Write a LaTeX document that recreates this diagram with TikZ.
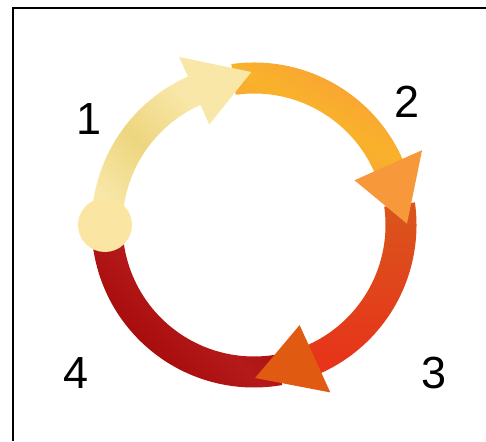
\documentclass[tikz,border=0pt]{standalone}
\usepackage{fontspec}
\setmainfont{Liberation Sans}
\usetikzlibrary{calc}
\definecolor{cycpale}{HTML}{EDD67F}
\definecolor{cycpalelight}{HTML}{F8E7A8}
\definecolor{cycpalehead}{HTML}{F8E7A6}
\definecolor{cycorange}{HTML}{F89A38}
\definecolor{cycorangemid}{HTML}{F9B22B}
\definecolor{cycorangehead}{HTML}{F7983A}
\definecolor{cycred}{HTML}{E8321A}
\definecolor{cycredtop}{HTML}{D9561C}
\definecolor{cycredhead}{HTML}{E05A12}
\definecolor{cycdark}{HTML}{A00404}
\definecolor{cycdarkmid}{HTML}{B51A1A}
\definecolor{cycdot}{HTML}{FAE6A2}

\begin{document}
\begin{tikzpicture}[x=1pt, y=1pt,
    num/.style={font=\fontsize{45}{45}\selectfont, inner sep=0pt, anchor=center},
    frame/.style={line width=2pt, black}
]
    \useasboundingbox (-254,-216) rectangle (232,225);
    \coordinate (ctr) at (0,0);

    % === frame (only top and left edge visible) ===
    \draw[frame] (232,217) -- (-241,217) -- (-241,-216);

    % === step 4: dark red, ends under the dot ===
    \shade[left color=cycdark, right color=cycdark, middle color=cycdarkmid, shading angle=-45]
        (-80:162.5) arc[start angle=-80, end angle=-180, radius=162.5]
        -- (-180:131.5) arc[start angle=-180, end angle=-80, radius=131.5] -- cycle;

    % === step 3 ===
    \shade[top color=cycredtop, bottom color=cycred]
        (8:162.5) arc[start angle=8, end angle=-66, radius=162.5]
        -- (-66:131.5) arc[start angle=-66, end angle=8, radius=131.5] -- cycle;
    \fill[cycredhead] (-65.5:184) -- (-89.6:153) -- (-65.5:110) -- cycle;

    % === step 2 ===
    \shade[left color=cycorange, right color=cycorange, middle color=cycorangemid, shading angle=-30]
        (98:162.5) arc[start angle=98, end angle=23, radius=162.5]
        -- (23:131.5) arc[start angle=23, end angle=98, radius=131.5] -- cycle;
    \fill[cycorangehead] (24:184) -- (0.5:153) -- (24:110) -- cycle;

    % === step 1 ===
    \shade[top color=cycpalelight, bottom color=cycpalelight, middle color=cycpale, shading angle=-45]
        (180:162.5) arc[start angle=180, end angle=113, radius=162.5]
        -- (113:131.5) arc[start angle=113, end angle=180, radius=131.5] -- cycle;
    \fill[cycpalehead] (114:184) -- (91:153) -- (114:110) -- cycle;

    % start dot
    \fill[cycdot] (180:149) circle[radius=27];

    % === labels ===
    \node[num] (one)   at (-165,106)  {1};
    \node[num] (two)   at (153,123)   {2};
    \node[num] (three) at (180,-148)  {3};
    \node[num] (four)  at (-178,-148) {4};
\end{tikzpicture}
\end{document}
